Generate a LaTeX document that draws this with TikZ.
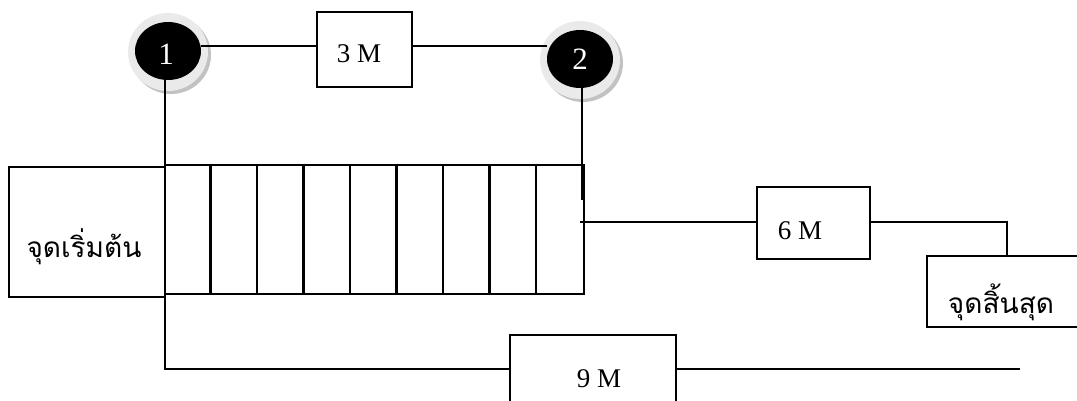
\documentclass[tikz,border=0pt]{standalone}
\usepackage{fontspec}
\setmainfont{Liberation Serif}
\newfontfamily\thaifont[Script=Thai]{Loma}
\usetikzlibrary{shapes.geometric}
\definecolor{halo}{HTML}{EAEAEA}
\definecolor{haloshade}{HTML}{C2C2C2}
\begin{document}
\begin{tikzpicture}[x=1pt,y=-1pt,
  wire/.style={line width=1.6pt},
  box/.style={draw, line width=1.8pt, inner sep=0pt, rectangle},
  lbl/.style={anchor=base, inner sep=0pt, font=\fontsize{27}{30}\selectfont},
  thailbl/.style={anchor=base, inner sep=0pt, font=\thaifont\fontsize{28}{32}\selectfont},
  station/.style={ellipse, fill=black, minimum width=66pt, minimum height=58pt, inner sep=0pt},
  num/.style={anchor=base, inner sep=0pt, text=white, font=\fontsize{31}{34}\selectfont}]
\useasboundingbox (0,0) rectangle (1077,401);
\clip (0,0) rectangle (1077,401);

% station markers with a soft ring and shadow
\coordinate (p1) at (168,51);
\coordinate (p2) at (580,59);
\foreach \p in {p1,p2}{
  \fill[haloshade] ([shift={(3,4)}]\p) ellipse [x radius=40, y radius=39];
  \fill[halo] ([shift={(0,1)}]\p) ellipse [x radius=40, y radius=39];
}
\node[station] (s1) at (p1) {};
\node[station] (s2) at (p2) {};
\node[num] (n1) at (166,65) {1};
\node[num] (n2) at (580,70) {2};

% machine boxes
\node[box, minimum width=95pt, minimum height=75pt] (m3) at (364.5,49.5) {};
\node[box, minimum width=113pt, minimum height=72pt] (m6) at (813.5,223) {};
\node[box, minimum width=166pt, minimum height=80pt] (m9) at (593,375) {};
\node[lbl] (t3) at (359,63) {3 M};
\node[lbl] (t6) at (800,240) {6 M};
\node[lbl] (t9) at (599,387) {9 M};

% start and end boxes
\node[box, minimum width=156pt, minimum height=130pt] (start) at (87,232) {};
\node[box, minimum width=168pt, minimum height=71pt] (finish) at (1011,291.5) {};
\node[thailbl] (tstart) at (84,257) {จุดเริ่มต้น};
\node[thailbl] (tfinish) at (1001,313) {จุดสิ้นสุด};

% conveyor strip of nine cells
\node[draw, line width=2.6pt, rectangle, inner sep=0pt, minimum width=419pt, minimum height=129pt] (strip) at (374.5,229.5) {};
\foreach \k in {1,...,8}{
  \draw[line width=2.6pt] ([xshift=\k*46.55pt]strip.north west) -- ([xshift=\k*46.55pt]strip.south west);
}

% connectors
\coordinate (b1) at (165,369);
\coordinate (e9) at (1020,369);
\coordinate (d2) at (582,200);
\coordinate (o1) at (580,222);
\coordinate (k6) at (1007,222);

\draw[wire] (s1.east |- 0,46) -- (m3.west |- 0,46);
\draw[wire] (m3.east |- 0,46) -- (s2.west |- 0,46);
\draw[wire] (b1 |- s1.south) -- (b1) -- (m9.west |- b1);
\draw[wire] (m9.east |- e9) -- (e9);
\draw[wire] (d2 |- s2.south) -- (d2);
\draw[wire] (o1) -- (m6.west |- o1);
\draw[wire] (m6.east |- k6) -- (k6) -- (k6 |- finish.north);
\end{tikzpicture}
\end{document}
